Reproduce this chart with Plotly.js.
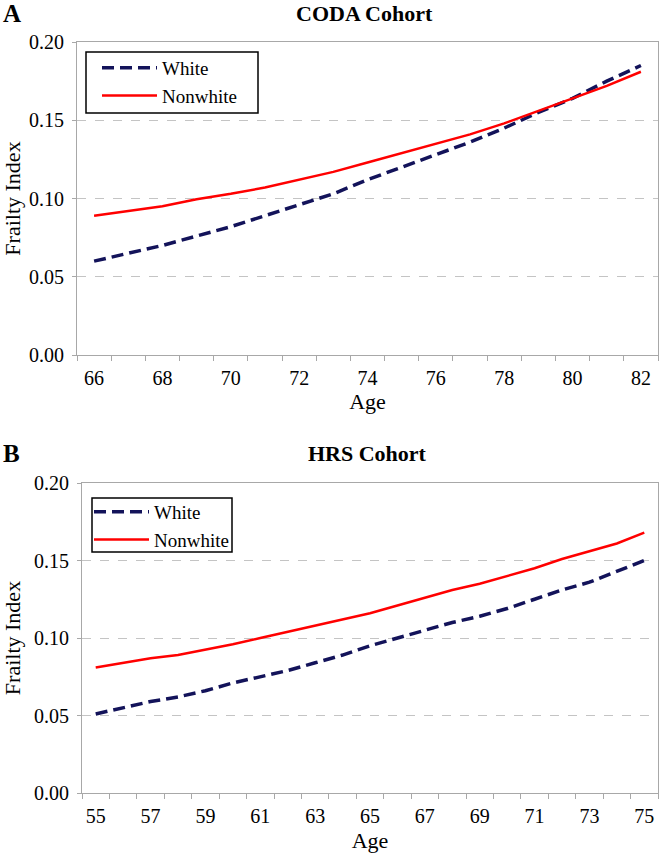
<!DOCTYPE html>
<html>
<head>
<meta charset="utf-8">
<script src="https://cdn.plot.ly/plotly-3.0.1.min.js"></script>
<style>html,body{margin:0;padding:0;background:#fff;}#chart{width:661px;height:853px;}</style>
</head>
<body>
<div id="chart"></div>
<script>
// ---- Data ----
const codaAges = [66, 67, 68, 69, 70, 71, 72, 73, 74, 75, 76, 77, 78, 79, 80, 81, 82];
const codaWhite = [0.060, 0.065, 0.070, 0.076, 0.082, 0.089, 0.096, 0.103, 0.112, 0.120, 0.128, 0.136, 0.145, 0.155, 0.164, 0.175, 0.185];
const codaNonwhite = [0.089, 0.092, 0.095, 0.0995, 0.103, 0.107, 0.112, 0.117, 0.123, 0.129, 0.135, 0.141, 0.148, 0.156, 0.164, 0.172, 0.181];

const hrsAges = [55, 56, 57, 58, 59, 60, 61, 62, 63, 64, 65, 66, 67, 68, 69, 70, 71, 72, 73, 74, 75];
const hrsWhite = [0.051, 0.055, 0.059, 0.062, 0.066, 0.071, 0.075, 0.079, 0.084, 0.089, 0.095, 0.100, 0.105, 0.110, 0.114, 0.119, 0.125, 0.131, 0.136, 0.143, 0.150];
const hrsNonwhite = [0.081, 0.084, 0.087, 0.089, 0.0925, 0.096, 0.100, 0.104, 0.108, 0.112, 0.116, 0.121, 0.126, 0.131, 0.135, 0.140, 0.145, 0.151, 0.156, 0.161, 0.168];

const codaTicks = [66, 68, 70, 72, 74, 76, 78, 80, 82];
const hrsTicks = [55, 57, 59, 61, 63, 65, 67, 69, 71, 73, 75];
const yTicks = [0, 0.05, 0.10, 0.15, 0.20];
const seriesNames = ['White', 'Nonwhite'];
const panelTitles = ['CODA Cohort', 'HRS Cohort'];
const panelLetters = ['A', 'B'];

// ---- Styles ----
const FONT = 'Liberation Serif';
const NAVY = '#13135a';
const RED = '#ff0000';
const W = 661, H = 853;

const whiteLine = {color: NAVY, width: 3.5, dash: '12px,6px'};
const redLine = {color: RED, width: 2.5};

const traces = [
  {x: codaAges, y: codaWhite, name: seriesNames[0], type: 'scatter', mode: 'lines', line: whiteLine, xaxis: 'x', yaxis: 'y', legend: 'legend'},
  {x: codaAges, y: codaNonwhite, name: seriesNames[1], type: 'scatter', mode: 'lines', line: redLine, xaxis: 'x', yaxis: 'y', legend: 'legend'},
  {x: hrsAges, y: hrsWhite, name: seriesNames[0], type: 'scatter', mode: 'lines', line: whiteLine, xaxis: 'x2', yaxis: 'y2', legend: 'legend2'},
  {x: hrsAges, y: hrsNonwhite, name: seriesNames[1], type: 'scatter', mode: 'lines', line: redLine, xaxis: 'x2', yaxis: 'y2', legend: 'legend2'}
];

function px(v) { return v / W; }
function py(v) { return 1 - v / H; }

function xAxis(ages, ticks, domain, anchor, titleStandoff) {
  return {
    domain: domain, anchor: anchor,
    range: [ages[0] - 0.5, ages[ages.length - 1] + 0.5],
    tickmode: 'array', tickvals: ticks, ticktext: ticks.map(String),
    ticks: '', showgrid: false, zeroline: false,
    showline: true, linecolor: '#a8a8a8', linewidth: 1, mirror: true,
    minor: {tick0: ages[0] - 0.5, dtick: 1, ticks: 'outside', ticklen: 5, tickcolor: '#a8a8a8', tickwidth: 1, showgrid: false},
    tickfont: {family: FONT, size: 20, color: '#000'},
    ticklabelstandoff: 5,
    title: {text: 'Age', font: {family: FONT, size: 22, color: '#000'}, standoff: titleStandoff},
    fixedrange: true
  };
}
function yAxis(domain, anchor) {
  return {
    domain: domain, anchor: anchor,
    range: [0, 0.2], tickmode: 'array', tickvals: yTicks, ticktext: yTicks.map(v => v.toFixed(2)),
    ticks: 'outside', ticklen: 4, tickcolor: '#a8a8a8',
    showgrid: true, gridcolor: '#c4c4c4', griddash: 'dash', gridwidth: 1,
    zeroline: false, showline: true, linecolor: '#a8a8a8', linewidth: 1, mirror: true,
    tickfont: {family: FONT, size: 20, color: '#000'},
    ticklabelstandoff: 4,
    title: {text: 'Frailty Index', font: {family: FONT, size: 22, color: '#000'}, standoff: 16},
    fixedrange: true
  };
}

const legendBase = {
  bgcolor: 'rgba(0,0,0,0)', borderwidth: 0,
  font: {family: FONT, size: 19, color: '#000'},
  xanchor: 'left', yanchor: 'top', tracegroupgap: 0
};

const boxLine = {color: '#000', width: 1.5};

const layout = {
  width: W, height: H,
  margin: {l: 0, r: 0, t: 0, b: 0},
  paper_bgcolor: '#fff', plot_bgcolor: '#fff',
  showlegend: true,
  xaxis: xAxis(codaAges, codaTicks, [px(77), px(658)], 'y', 3),
  yaxis: yAxis([py(355), py(42)], 'x'),
  xaxis2: xAxis(hrsAges, hrsTicks, [px(82), px(658)], 'y2', 10),
  yaxis2: yAxis([py(793), py(483)], 'x2'),
  legend: Object.assign({}, legendBase, {x: px(97), y: py(49), itemwidth: 55}),
  legend2: Object.assign({}, legendBase, {x: px(89), y: py(493), itemwidth: 55}),
  shapes: [
    {type: 'rect', xref: 'paper', yref: 'paper', x0: px(86), x1: px(258), y0: py(52), y1: py(113), line: boxLine, fillcolor: '#fff', layer: 'above'},
    {type: 'rect', xref: 'paper', yref: 'paper', x0: px(92), x1: px(232), y0: py(498), y1: py(552), line: boxLine, fillcolor: '#fff', layer: 'above'}
  ],
  annotations: [
    {text: '<b>' + panelTitles[0] + '</b>', xref: 'paper', yref: 'paper', x: px(364), y: py(13), xanchor: 'center', yanchor: 'middle', showarrow: false, font: {family: FONT, size: 22, color: '#000'}},
    {text: '<b>' + panelLetters[0] + '</b>', xref: 'paper', yref: 'paper', x: px(1), y: py(14), xanchor: 'left', yanchor: 'middle', showarrow: false, font: {family: FONT, size: 25, color: '#000'}},
    {text: '<b>' + panelTitles[1] + '</b>', xref: 'paper', yref: 'paper', x: px(367), y: py(453), xanchor: 'center', yanchor: 'middle', showarrow: false, font: {family: FONT, size: 22, color: '#000'}},
    {text: '<b>' + panelLetters[1] + '</b>', xref: 'paper', yref: 'paper', x: px(1), y: py(453), xanchor: 'left', yanchor: 'middle', showarrow: false, font: {family: FONT, size: 25, color: '#000'}}
  ]
};

Plotly.newPlot('chart', traces, layout, {displayModeBar: false, staticPlot: true});
</script>
</body>
</html>
